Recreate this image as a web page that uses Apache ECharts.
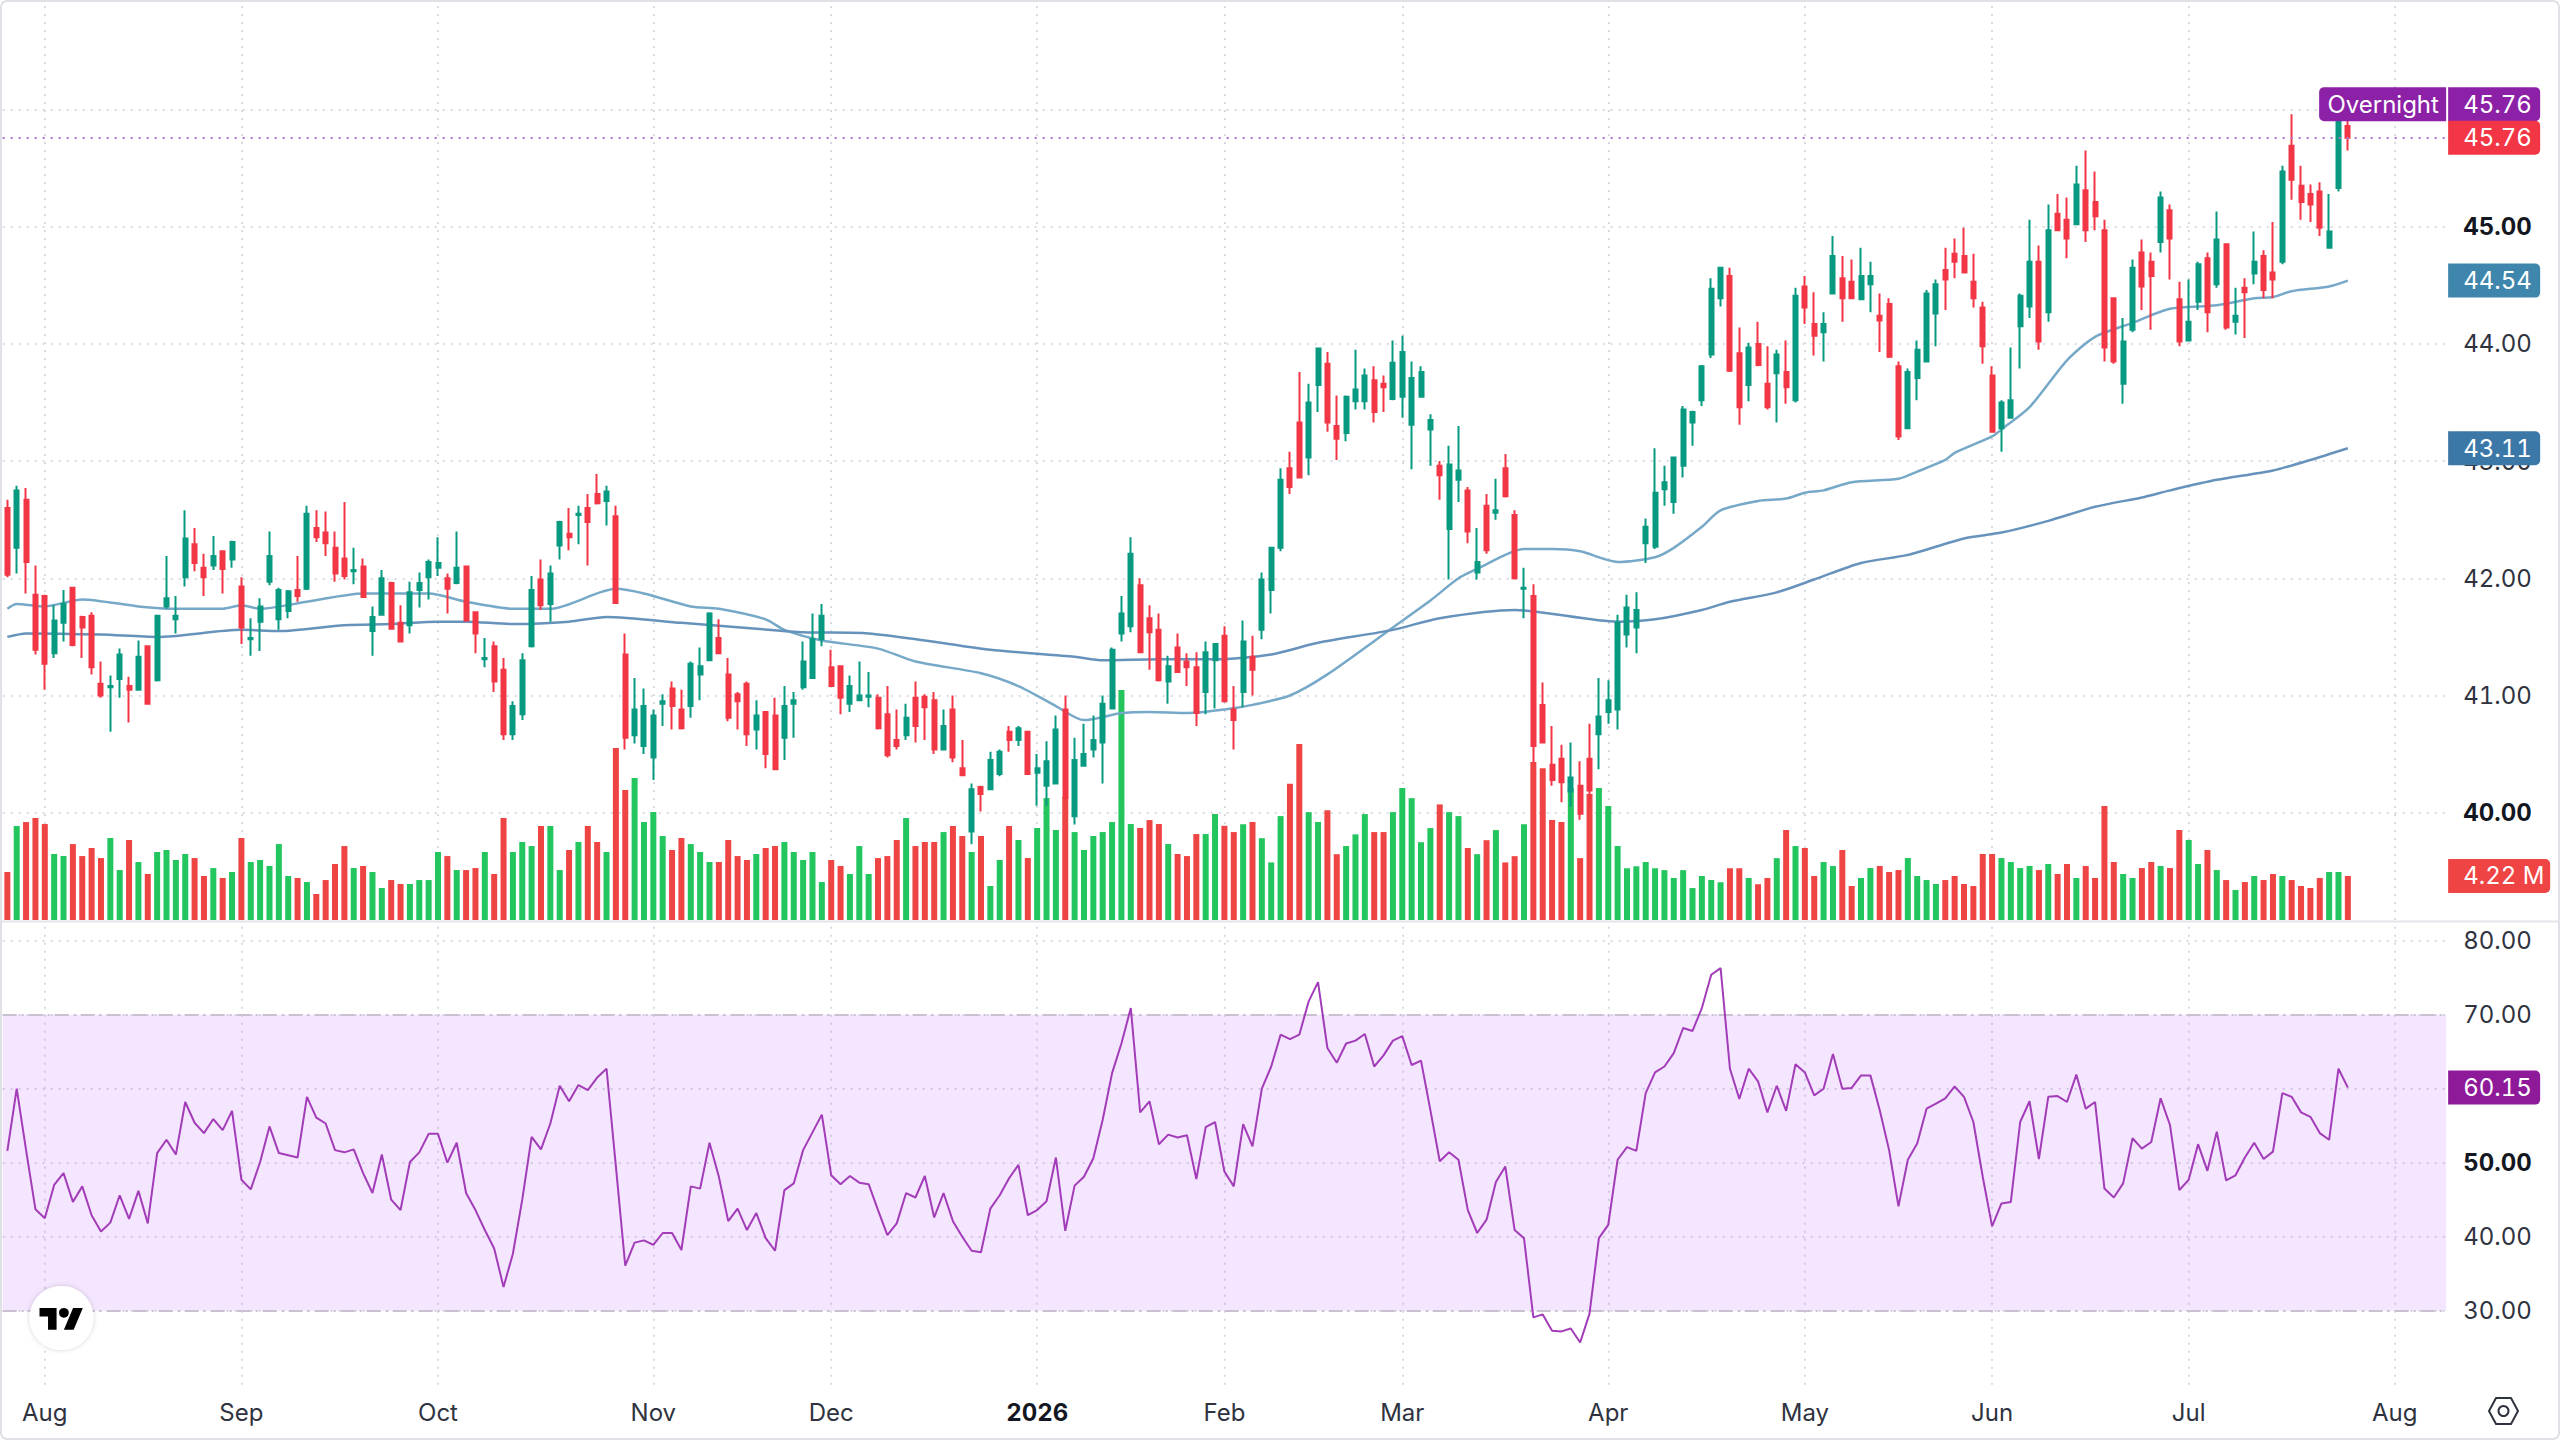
<!DOCTYPE html>
<html>
<head>
<meta charset="utf-8">
<title>Daily price, volume and RSI</title>
<style>
html,body{margin:0;padding:0;background:#fff}
#chart{width:2560px;height:1440px}
#chart text,#chart tspan{font-variant-numeric:tabular-nums !important;font-feature-settings:"tnum" 1 !important}
</style>
<script src="https://cdn.jsdelivr.net/npm/echarts@6/dist/echarts.min.js"></script>
</head>
<body>
<div id="chart"></div>
<script>
// Month boundaries, as positions in the daily session list
const monthIndex = [4,25,46,69,88,110,130,149,171,192,212,233,255];
const monthLabels = ['Aug','Sep','Oct','Nov','Dec','2026','Feb','Mar','Apr','May','Jun','Jul','Aug'];

const open = [42.60,42.26,42.67,41.86,41.85,41.36,41.62,41.92,41.67,41.68,
41.10,41.07,41.14,41.08,41.05,41.42,41.13,41.76,41.65,42.01,
42.29,42.09,42.11,42.23,42.16,41.93,41.48,41.63,41.97,41.65,
41.72,41.90,41.91,42.43,42.39,42.26,42.17,42.06,42.10,41.55,
41.69,41.96,41.62,41.60,41.90,42.01,42.09,42.00,41.96,42.10,
41.71,41.31,41.42,41.22,40.67,40.84,41.42,41.99,41.78,42.28,
42.38,42.54,42.60,42.72,42.66,42.53,41.35,40.66,40.57,40.47,
40.93,41.06,40.88,40.91,41.18,41.30,41.49,41.18,41.01,41.10,
40.71,40.86,40.83,40.64,40.93,41.07,41.15,41.48,41.24,41.25,
40.93,40.96,40.99,40.98,40.84,40.62,40.66,40.98,40.99,40.96,
40.54,40.88,40.38,39.84,40.22,40.20,40.33,40.69,40.62,40.69,
40.34,40.23,40.25,40.88,39.97,40.40,40.54,40.60,40.89,41.53,
41.59,41.94,41.66,41.56,41.12,41.41,41.29,41.24,41.03,41.30,
41.51,40.88,41.03,41.33,41.56,41.90,42.26,42.94,43.33,43.03,
43.65,43.83,43.30,43.24,43.51,43.51,43.69,43.66,43.53,43.55,
43.31,43.55,43.27,42.96,42.42,42.84,42.75,42.05,42.62,42.56,
42.94,42.54,41.91,41.85,40.92,40.41,40.46,40.18,40.23,40.46,
40.67,40.86,40.88,41.52,41.58,42.30,42.27,42.76,42.65,42.96,
43.33,43.52,43.91,44.39,44.58,43.92,43.65,44.00,43.66,43.75,
43.76,43.52,44.49,44.17,44.10,44.43,44.56,44.53,44.38,44.51,
44.24,44.34,43.81,43.28,43.71,43.85,44.26,44.63,44.77,44.75,
44.53,44.31,43.73,43.28,43.37,44.15,44.32,44.70,44.27,45.11,
45.06,45.02,45.31,45.21,44.97,44.39,43.66,44.12,44.78,44.70,
44.87,45.14,44.38,44.03,44.36,44.73,44.51,44.85,44.19,44.48,
44.60,44.75,44.61,44.70,45.69,45.35,45.28,45.30,44.82,45.33,45.86];

const close = [42.03,42.75,42.14,41.39,41.27,41.64,41.78,41.43,41.58,41.24,
41.00,41.08,41.35,41.05,41.33,40.93,41.68,41.83,41.68,42.34,
42.13,42.01,42.19,42.08,42.31,41.58,41.49,41.76,42.19,41.90,
41.89,41.85,42.55,42.35,42.30,42.04,42.02,42.07,41.84,41.67,
42.00,41.57,41.46,41.88,41.96,42.14,42.13,41.91,42.09,41.64,
41.53,41.32,41.12,40.67,40.91,41.30,41.90,41.77,42.04,42.48,
42.35,42.55,42.48,42.64,42.74,41.79,40.64,40.88,40.91,40.83,
40.95,40.91,40.72,41.27,41.25,41.70,41.36,40.81,40.95,40.67,
40.83,40.50,40.37,40.91,40.96,41.29,41.48,41.68,41.08,40.98,
41.08,41.00,41.00,40.72,40.49,40.57,40.81,40.74,40.90,40.54,
40.74,40.47,40.32,40.20,40.16,40.45,40.52,40.62,40.72,40.33,
40.38,40.44,40.71,40.13,40.45,40.50,40.62,40.93,41.39,41.70,
42.21,41.37,41.54,41.13,41.25,41.20,41.24,40.85,41.37,41.44,
40.95,40.79,41.46,41.22,41.99,42.26,42.84,42.78,42.86,43.50,
43.96,43.33,43.19,43.55,43.61,43.73,43.42,43.63,43.84,43.93,
43.71,43.76,43.35,42.88,42.97,42.92,42.40,42.14,42.24,42.58,
42.70,42.00,41.92,40.57,40.60,40.28,40.26,40.30,39.99,40.19,
40.82,40.96,41.62,41.75,41.73,42.44,42.73,42.82,43.03,43.44,
43.42,43.81,44.47,44.65,43.77,43.46,43.97,43.82,43.46,43.91,
43.63,44.41,44.31,44.07,44.17,44.75,44.39,44.39,44.58,44.58,
44.20,43.89,43.21,43.76,43.95,44.43,44.51,44.55,44.70,44.61,
44.39,43.98,43.25,43.50,43.52,44.41,44.70,44.02,44.97,44.97,
44.90,45.36,44.97,45.09,43.97,43.85,44.02,44.65,44.49,44.58,
45.25,44.90,44.02,44.19,44.68,44.27,44.89,44.14,44.24,44.44,
44.70,44.46,44.55,45.47,45.40,45.21,45.19,44.99,44.96,45.90,45.76];

const high = [42.67,42.79,42.77,42.11,41.86,41.77,41.90,41.92,41.68,41.71,
41.29,41.17,41.40,41.16,41.47,41.42,41.69,42.19,41.85,42.58,
42.43,42.21,42.36,42.24,42.32,42.01,41.66,41.83,42.40,41.92,
41.90,42.19,42.62,42.58,42.57,42.40,42.65,42.26,42.17,41.76,
42.07,41.97,41.77,41.97,42.05,42.16,42.35,42.04,42.40,42.11,
41.71,41.49,41.46,41.32,40.95,41.36,42.02,42.16,42.11,42.49,
42.60,42.62,42.72,42.89,42.79,42.62,41.53,41.15,41.06,40.88,
41.01,41.12,41.05,41.29,41.41,41.71,41.65,41.32,41.03,41.12,
40.96,40.86,40.98,41.08,41.03,41.46,41.70,41.78,41.39,41.25,
41.17,41.29,41.20,41.01,41.08,40.88,40.93,41.12,41.01,41.03,
40.88,41.00,40.62,40.25,40.23,40.52,40.54,40.74,40.74,40.69,
40.50,40.61,40.83,41.00,40.64,40.76,40.83,41.00,41.41,41.85,
42.35,42.00,41.77,41.70,41.34,41.53,41.36,41.37,41.46,41.44,
41.59,41.08,41.64,41.51,42.05,42.27,42.94,43.08,43.76,43.66,
43.97,43.93,43.56,43.56,43.95,43.79,43.81,43.73,44.03,44.07,
43.85,43.81,43.40,43.00,43.13,43.30,42.78,42.43,42.72,42.85,
43.06,42.58,42.09,41.95,41.11,40.74,40.58,40.60,40.44,40.76,
41.15,41.13,41.69,41.86,41.88,42.51,43.11,42.96,43.04,43.47,
43.43,43.82,44.56,44.65,44.65,44.14,44.01,44.19,43.98,43.95,
44.03,44.48,44.58,44.44,44.27,44.92,44.75,44.72,44.82,44.70,
44.43,44.39,43.85,43.79,44.03,44.46,44.55,44.82,44.90,44.99,
44.77,44.36,43.81,43.52,43.97,44.43,45.06,44.84,45.19,45.28,
45.25,45.52,45.65,45.47,45.06,44.39,44.22,44.72,44.89,44.78,
45.30,45.19,44.53,44.55,44.70,44.78,45.13,44.85,44.48,44.56,
44.96,44.80,45.04,45.52,45.96,45.52,45.36,45.38,45.28,46.02,45.97];

const low = [42.01,42.04,41.87,41.35,41.05,41.32,41.46,41.42,41.32,41.18,
40.98,40.69,40.98,40.77,41.05,40.93,41.12,41.74,41.53,41.93,
42.06,41.85,42.07,41.87,42.09,41.44,41.34,41.38,41.94,41.56,
41.66,41.80,41.90,42.31,42.19,41.97,41.99,41.95,41.84,41.34,
41.68,41.56,41.46,41.53,41.75,41.82,42.02,41.70,41.95,41.63,
41.36,41.24,41.03,40.62,40.62,40.79,41.41,41.73,41.63,42.16,
42.24,42.29,42.11,42.63,42.45,41.78,40.54,40.59,40.50,40.28,
40.74,40.71,40.71,40.81,40.96,41.30,41.36,40.78,40.71,40.57,
40.54,40.38,40.37,40.45,40.64,41.05,41.15,41.42,41.08,40.84,
40.86,40.95,40.90,40.71,40.47,40.54,40.62,40.60,40.62,40.50,
40.54,40.43,40.31,39.73,40.01,40.20,40.31,40.52,40.57,40.33,
40.06,40.06,40.25,40.10,39.90,40.40,40.47,40.25,40.89,41.46,
41.54,41.37,41.22,41.12,40.93,41.20,41.08,40.74,40.84,40.89,
40.94,40.54,40.90,41.00,41.48,41.70,42.23,42.72,42.86,42.88,
43.42,43.25,43.01,43.17,43.44,43.44,43.33,43.42,43.52,43.37,
42.93,43.54,42.96,42.67,41.99,42.65,42.30,41.99,42.21,42.50,
42.69,41.99,41.66,40.42,40.59,40.23,40.09,40.05,39.94,40.05,
40.37,40.76,40.71,41.41,41.36,42.13,42.25,42.62,42.55,42.86,
43.13,43.47,43.88,44.32,43.76,43.31,43.51,43.81,43.44,43.33,
43.49,43.50,44.17,43.90,43.85,44.43,44.19,44.39,44.38,44.27,
43.93,43.88,43.18,43.28,43.52,43.85,43.98,44.29,44.56,44.60,
44.31,43.83,43.25,43.08,43.37,43.79,44.22,43.95,44.19,44.97,
44.73,45.02,44.87,44.97,43.85,43.83,43.49,44.10,44.29,44.12,
44.78,44.55,43.98,44.02,44.29,44.10,44.48,44.12,44.08,44.05,
44.51,44.39,44.39,44.68,45.23,45.06,45.04,44.92,44.82,45.30,45.65];

// Session volume, in millions of shares
const volume = [4.60,9.01,9.39,9.78,9.20,6.33,6.13,7.28,6.13,6.90,
5.94,7.86,4.79,7.67,5.56,4.41,6.52,6.71,5.75,6.33,
5.94,4.22,4.98,4.03,4.60,7.86,5.56,5.75,5.18,7.28,
4.22,4.03,3.64,2.49,3.83,5.37,7.09,4.98,5.18,4.60,
3.07,3.83,3.45,3.45,3.83,3.83,6.52,6.13,4.79,4.79,
4.98,6.52,4.41,9.78,6.52,7.48,7.09,9.01,9.01,4.79,
6.71,7.48,9.01,7.48,6.52,16.49,12.46,13.61,9.39,10.35,
8.05,6.71,7.86,7.28,6.52,5.56,5.56,7.67,6.13,5.75,
6.33,6.90,7.09,7.48,6.52,5.75,6.52,3.64,5.75,5.18,
4.41,7.09,4.41,5.94,6.13,7.67,9.78,7.09,7.48,7.48,
8.43,9.01,8.05,6.52,8.05,3.26,5.75,9.01,7.67,5.94,
8.82,11.69,8.63,11.80,8.43,6.71,8.05,8.43,9.39,22.04,
9.20,8.82,9.58,9.20,7.28,6.33,6.13,8.24,8.24,10.16,
9.03,8.43,9.18,9.40,7.84,5.52,9.96,13.06,16.87,10.34,
9.40,10.52,6.31,7.09,8.21,10.15,8.43,8.43,10.34,12.65,
11.68,7.46,8.81,11.08,10.34,9.96,6.90,6.31,7.65,8.62,
5.52,6.12,9.18,15.15,14.55,9.59,9.40,12.65,5.93,12.09,
12.65,10.93,7.09,4.96,5.15,5.56,4.96,4.78,4.03,4.78,
3.06,4.22,3.84,3.62,4.96,4.96,4.03,3.43,4.03,5.93,
8.63,7.09,6.90,4.22,5.56,5.18,6.71,3.26,4.03,4.98,
5.18,4.60,4.79,5.94,4.22,3.83,3.45,3.83,4.22,3.45,
3.26,6.33,6.33,5.94,5.56,4.98,5.18,4.79,5.37,4.41,
5.37,4.03,5.18,4.03,10.93,5.56,4.41,4.03,4.98,5.56,
5.18,4.98,8.63,7.67,5.37,6.71,4.79,3.83,2.88,3.64,
4.22,3.83,4.41,4.22,3.83,3.26,3.07,4.03,4.60,4.60,4.22];

const rsi = [51.6,60.0,51.7,43.7,42.5,47.0,48.6,44.7,46.8,42.9,
40.7,41.9,45.6,42.4,46.2,41.8,51.3,53.1,51.1,58.2,
55.4,54.0,55.9,54.4,57.0,47.7,46.4,50.1,54.9,51.3,
51.0,50.7,58.9,56.1,55.3,51.7,51.4,51.8,48.6,45.9,
51.1,45.0,43.6,50.1,51.4,53.9,53.9,50.0,52.7,45.9,
43.6,40.9,38.4,33.2,37.7,45.0,53.5,51.8,55.3,60.4,
58.3,60.5,59.8,61.5,62.7,49.5,36.1,39.2,39.5,38.9,
40.5,40.5,38.2,46.8,46.5,52.7,48.1,42.1,43.8,40.9,
43.2,39.8,38.1,46.3,47.2,51.7,54.1,56.5,48.3,47.1,
48.2,47.3,47.1,43.6,40.2,41.8,45.9,45.3,48.2,42.6,
45.9,42.1,40.0,38.1,37.9,43.8,45.6,47.9,49.7,42.9,
43.6,44.8,50.7,40.8,46.9,48.1,50.6,55.8,62.1,66.1,
70.9,56.8,58.3,52.5,53.8,53.4,53.7,47.8,54.8,55.5,
48.8,46.8,55.2,52.2,60.0,63.0,67.3,66.7,67.3,71.8,
74.4,65.5,63.5,66.1,66.5,67.4,63.0,64.5,66.5,67.1,
63.2,63.8,57.1,50.2,51.4,50.4,43.6,40.5,42.3,47.4,
49.5,40.9,39.8,29.1,29.5,27.3,27.2,27.6,25.7,29.6,
39.8,41.6,50.4,52.1,51.6,59.4,62.2,63.0,64.8,68.2,
67.8,70.9,75.4,76.3,62.7,58.6,62.7,61.0,56.8,60.4,
57.0,63.3,62.2,59.1,60.0,64.7,60.0,60.1,61.8,61.8,
57.1,51.7,44.1,50.4,52.6,57.3,58.0,58.7,60.3,58.9,
55.5,48.1,41.4,44.5,44.7,55.5,58.3,50.5,58.9,59.0,
58.2,61.9,57.3,58.2,46.5,45.3,47.2,53.3,51.9,52.8,
58.7,55.1,46.3,47.7,52.5,48.9,54.2,47.6,48.3,50.7,
52.7,50.5,51.5,59.4,58.9,56.8,56.2,54.0,53.1,62.7,60.15];

// Moving averages as [session, value] pairs
const fastMa = [[0,41.74],[1,41.78],[4,41.76],[8,41.82],[14,41.76],[18,41.74],[23,41.74],[25,41.77],[27,41.74],[32,41.80],[38,41.87],[45,41.87],[49,41.80],[54,41.74],[58,41.74],[65,41.91],[68,41.87],[73,41.76],[76,41.74],[81,41.65],[83,41.56],[87,41.47],[93,41.40],[97,41.29],[104,41.19],[108,41.08],[112,40.91],[115,40.79],[119,40.85],[122,40.86],[126,40.85],[130,40.88],[133,40.92],[137,41.00],[141,41.18],[148,41.58],[152,41.81],[155,42.00],[157,42.08],[162,42.25],[165,42.25],[168,42.23],[172,42.14],[176,42.18],[178,42.26],[181,42.44],[183,42.58],[187,42.66],[190,42.68],[192,42.73],[194,42.75],[197,42.82],[202,42.85],[204,42.91],[207,43.01],[208,43.07],[212,43.21],[213,43.27],[216,43.46],[220,43.86],[223,44.06],[227,44.18],[231,44.30],[236,44.33],[240,44.39],[242,44.40],[244,44.45],[248,44.49],[250,44.54]];
const slowMa = [[0,41.50],[2,41.53],[10,41.52],[16,41.50],[25,41.56],[29,41.55],[36,41.60],[41,41.61],[46,41.63],[49,41.63],[54,41.61],[60,41.63],[64,41.67],[72,41.62],[80,41.57],[85,41.54],[92,41.53],[98,41.47],[105,41.39],[114,41.33],[117,41.30],[123,41.31],[129,41.31],[135,41.35],[140,41.45],[148,41.56],[153,41.66],[161,41.73],[172,41.63],[176,41.65],[181,41.73],[184,41.80],[189,41.88],[193,41.99],[198,42.13],[203,42.20],[209,42.34],[213,42.39],[218,42.49],[223,42.61],[228,42.69],[231,42.75],[236,42.84],[242,42.92],[246,43.01],[250,43.11]];

const lastPrice = 45.76;
const lastFastMa = 44.54;
const lastSlowMa = 43.11;
const lastVolume = 4.22;
const lastRsi = 60.15;
const rsiBounds = [70, 30];

const UP = '#089981', DOWN = '#f23645';
const VOL_UP = '#22c55e', VOL_DOWN = '#ef4444';
const FONT = 'Inter, Roboto, sans-serif';
const STEP = 9.362;
const SLOTS = 261;
const PLOT_LEFT = 2.67;
const PLOT_W = STEP * SLOTS;

const sessions = Array.from({length: SLOTS}, (_, i) => String(i));
const candles = open.map((o, i) => [o, close[i], low[i], high[i]]);
const volumeBars = volume.map((v, i) => ({
  value: v,
  itemStyle: {color: close[i] >= open[i] ? VOL_UP : VOL_DOWN}
}));
const isMonth = i => monthIndex.includes(i);

const gridDots = {color: '#d9dbe2', width: 2, type: [2, 6]};

function bodyLabel(bolds) {
  return v => v === '' ? '' : (bolds.includes(Number(v)) ? '{b|' + Number(v).toFixed(2) + '}' : Number(v).toFixed(2));
}
const richBold = {b: {fontFamily: FONT, fontSize: 24, fontWeight: 700, color: '#131722'}};

// A price-scale tag that follows its axis; lift moves it above its value
function tag(name, x, y, value, text, color, opts) {
  const o = Object.assign({width: 92, lift: 0, prefix: null}, opts);
  return {
    type: 'custom', name, xAxisIndex: x, yAxisIndex: y, z: 20, clip: false, silent: true,
    data: [[250, value]],
    renderItem(params, api) {
      const cy = api.coord([api.value(0), api.value(1)])[1] - o.lift;
      const left = PLOT_LEFT + PLOT_W + 2;
      const kids = [
        {type: 'rect', shape: {x: left, y: cy - 17, width: o.width, height: 34, r: [0, 5, 5, 0]}, style: {fill: color}},
        {type: 'text', style: {x: left + 15, y: cy, text, fill: '#fff', font: '24px ' + FONT, textVerticalAlign: 'middle', textAlign: 'left'}}
      ];
      if (o.prefix) {
        kids.push({type: 'rect', shape: {x: left - 129, y: cy - 17, width: 127, height: 34, r: [5, 0, 0, 5]}, style: {fill: color}});
        kids.push({type: 'text', style: {x: left - 65, y: cy, text: o.prefix, fill: '#fff', font: '24px ' + FONT, textVerticalAlign: 'middle', textAlign: 'center'}});
      }
      return {type: 'group', children: kids};
    }
  };
}

const chart = echarts.init(document.getElementById('chart'), null, {renderer: 'svg', width: 2560, height: 1440});

// Logo drawn from its two flat shapes and the dot, placed inside the round badge
const LOGO_X = 39.5, LOGO_Y = 1303, LOGO_S = 1.22;
const logoPart = pts => pts.map(p => [LOGO_X + p[0] * LOGO_S, LOGO_Y + p[1] * LOGO_S]);

chart.setOption({
  animation: false,
  backgroundColor: '#fff',
  grid: [
    {left: PLOT_LEFT, width: PLOT_W, top: 4.02, height: 925.88},
    {left: PLOT_LEFT, width: PLOT_W, top: 0, height: 920},
    {left: PLOT_LEFT, width: PLOT_W, top: 866.7, height: 518}
  ],
  xAxis: [
    {type: 'category', gridIndex: 0, data: sessions, show: false},
    {type: 'category', gridIndex: 1, data: sessions,
      axisLine: {show: false}, axisLabel: {show: false},
      axisTick: {show: true, inside: true, length: 920, alignWithLabel: true, interval: i => isMonth(i), lineStyle: gridDots}},
    {type: 'category', gridIndex: 2, data: sessions, offset: 0,
      axisLine: {show: false},
      axisTick: {show: true, inside: true, length: 461, alignWithLabel: true, interval: i => isMonth(i), lineStyle: gridDots},
      axisLabel: {
        interval: i => isMonth(i), margin: 16, fontFamily: FONT, fontSize: 24, color: '#2f3340', hideOverlap: false,
        formatter: (v, i) => {
          const t = monthLabels[monthIndex.indexOf(i)];
          return t === '2026' ? '{b|' + t + '}' : (t || '');
        },
        rich: richBold
      }}
  ],
  yAxis: [
    {type: 'value', gridIndex: 0, position: 'right', min: 39, max: 46.9, interval: 1, scale: true,
      axisLine: {show: false}, axisTick: {show: false},
      splitLine: {show: true, showMinLine: false, showMaxLine: false, lineStyle: gridDots},
      axisLabel: {margin: 17, align: 'left', fontFamily: FONT, fontSize: 24, color: '#2f3340', showMinLabel: false, showMaxLabel: false,
        formatter: bodyLabel([45, 40]), rich: richBold}},
    {type: 'value', gridIndex: 1, min: 0, max: 88.2, show: false, splitLine: {show: false}},
    {type: 'value', gridIndex: 2, position: 'right', min: 20, max: 90, interval: 10,
      axisLine: {show: false}, axisTick: {show: false},
      splitLine: {show: true, showMinLine: false, showMaxLine: false, lineStyle: gridDots},
      axisLabel: {margin: 17, align: 'left', fontFamily: FONT, fontSize: 24, color: '#2f3340', showMinLabel: false, showMaxLabel: false,
        formatter: bodyLabel([50]), rich: richBold}}
  ],
  series: [
    {type: 'bar', name: 'Volume', xAxisIndex: 1, yAxisIndex: 1, data: volumeBars, barWidth: 6, z: 2},
    {type: 'line', name: 'SMA fast', xAxisIndex: 0, yAxisIndex: 0, data: fastMa, smooth: 0.25, showSymbol: false, z: 3,
      lineStyle: {color: '#76a8c8', width: 2.5}},
    {type: 'line', name: 'SMA slow', xAxisIndex: 0, yAxisIndex: 0, data: slowMa, smooth: 0.25, showSymbol: false, z: 3,
      lineStyle: {color: '#6692bb', width: 2.5}},
    {type: 'candlestick', name: 'Price', xAxisIndex: 0, yAxisIndex: 0, data: candles, barWidth: 4.5, z: 4,
      itemStyle: {color: UP, color0: DOWN, borderColor: UP, borderColor0: DOWN, borderWidth: 2},
      markLine: {silent: true, symbol: 'none', animation: false, label: {show: false},
        lineStyle: {color: '#b36fd6', width: 2, type: [2, 6]}, data: [{yAxis: lastPrice}]}},
    {type: 'line', name: 'RSI', xAxisIndex: 2, yAxisIndex: 2, data: rsi, showSymbol: false, z: 5,
      lineStyle: {color: '#a23cb8', width: 2},
      markArea: {silent: true, itemStyle: {color: 'rgba(170,63,247,0.13)'}, data: [[{yAxis: rsiBounds[0]}, {yAxis: rsiBounds[1]}]]},
      markLine: {silent: true, symbol: 'none', animation: false, label: {show: false},
        lineStyle: {color: '#c9c0d0', width: 2, type: [14, 5, 2, 5]},
        data: rsiBounds.map(b => ({yAxis: b}))}},
    tag('Overnight tag', 0, 0, lastPrice, lastPrice.toFixed(2), '#8c21a7', {lift: 33.5, prefix: 'Overnight'}),
    tag('Close tag', 0, 0, lastPrice, lastPrice.toFixed(2), DOWN),
    tag('Fast tag', 0, 0, lastFastMa, lastFastMa.toFixed(2), '#3f86ad'),
    tag('Slow tag', 0, 0, lastSlowMa, lastSlowMa.toFixed(2), '#3b78a8'),
    tag('Volume tag', 1, 1, lastVolume, lastVolume.toFixed(2) + ' M', VOL_DOWN, {width: 102}),
    tag('RSI tag', 2, 2, lastRsi, lastRsi.toFixed(2), '#8e1a9a')
  ],
  graphic: [
    // Pane divider and outer frame
    {type: 'line', silent: true, z: 30, shape: {x1: 0, y1: 921.5, x2: 2560, y2: 921.5}, style: {stroke: '#e4e5ea', lineWidth: 2}},
    {type: 'rect', silent: true, z: 30, shape: {x: 1, y: 1, width: 2558, height: 1438, r: 6}, style: {fill: 'none', stroke: '#dfe1e6', lineWidth: 2}},
    // Logo badge
    {type: 'circle', silent: true, z: 31, shape: {cx: 61.5, cy: 1318, r: 32}, style: {fill: '#fff', shadowBlur: 5, shadowColor: 'rgba(0,0,0,0.18)'}},
    {type: 'polygon', silent: true, z: 32, shape: {points: logoPart([[14,22],[7,22],[7,11],[0,11],[0,4],[14,4]])}, style: {fill: '#000'}},
    {type: 'polygon', silent: true, z: 32, shape: {points: logoPart([[28,22],[20,22],[27.5,4],[35.5,4]])}, style: {fill: '#000'}},
    {type: 'circle', silent: true, z: 32, shape: {cx: LOGO_X + 20 * LOGO_S, cy: LOGO_Y + 8 * LOGO_S, r: 4 * LOGO_S}, style: {fill: '#000'}},
    // Settings glyph
    {type: 'polygon', silent: true, z: 31, shape: {points: [[2489,1411],[2496,1398],[2511,1398],[2518,1411],[2511,1424],[2496,1424]]}, style: {fill: 'none', stroke: '#2f3340', lineWidth: 2, lineJoin: 'round'}},
    {type: 'circle', silent: true, z: 31, shape: {cx: 2503.5, cy: 1411, r: 5}, style: {fill: 'none', stroke: '#2f3340', lineWidth: 2}}
  ]
});
</script>
</body>
</html>
